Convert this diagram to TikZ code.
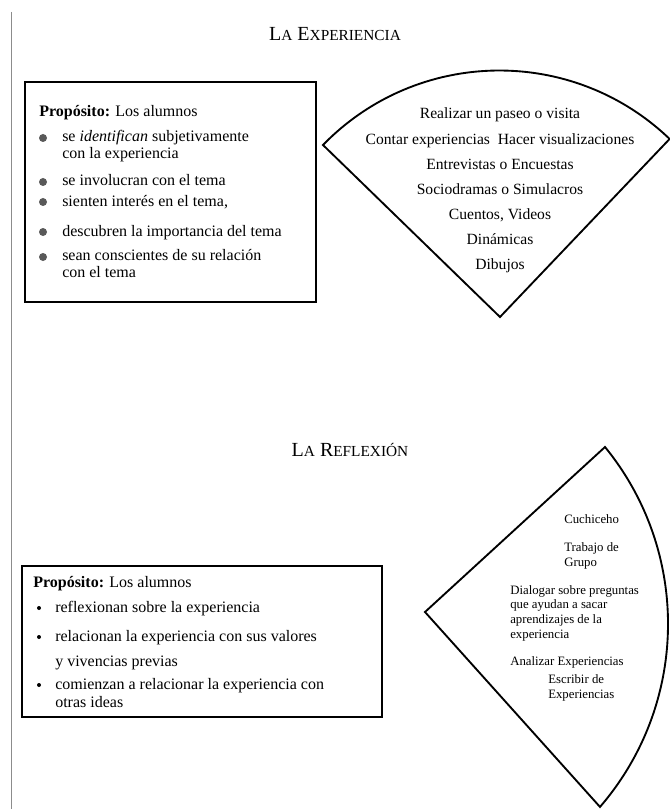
\documentclass[tikz,border=0pt]{standalone}
\usepackage{fontspec}
\setmainfont{Liberation Serif}
\newcommand{\smc}[1]{{\fontsize{11.5}{13}\selectfont #1}}
\tikzset{
    title/.style={font=\fontsize{15}{17}\selectfont, anchor=base, inner sep=0pt},
    frame/.style={draw, line width=1.1pt},
    fan/.style={draw, line width=1.4pt, line join=miter},
    txt/.style={font=\fontsize{12}{12.75}\selectfont, anchor=base west,
                inner sep=0pt, align=left},
    fantxt/.style={font=\fontsize{11.7}{18.75}\selectfont, anchor=base,
                   inner sep=0pt, align=center},
    smalltxt/.style={font=\fontsize{9.6}{11}\selectfont, anchor=base west,
                     inner sep=0pt, align=left},
    bigdot/.style={circle, fill=black!65, inner sep=0pt, minimum size=6pt},
    smalldot/.style={circle, fill=black, inner sep=0pt, minimum size=3pt},
}

\begin{document}
\begin{tikzpicture}[x=0.75pt, y=-0.75pt]

    \useasboundingbox (0,0) rectangle (670,809);
    \draw[black!45, line width=0.6pt] (11,12) -- (11,809);

    % la experiencia (multi-line nodes sit on their last baseline)
    \node[title] (exptitle) at (335,41) {L\smc{A} E\smc{XPERIENCIA}};
    \draw[frame] (25,82) rectangle (316,302);
    \node[txt] (exppurpose) at (39,117) {\textbf{Propósito:} Los alumnos};
    \node[bigdot] (d1) at (43,138) {};
    \node[txt] (e1) at (62,159) {se \textit{identifican} subjetivamente\\con la experiencia};
    \node[bigdot] (d2) at (43,182) {};
    \node[txt] (e2) at (62,186) {se involucran con el tema};
    \node[bigdot] (d3) at (43,202) {};
    \node[txt] (e3) at (62,206) {sienten interés en el tema,};
    \node[bigdot] (d4) at (43,232) {};
    \node[txt] (e4) at (62,236) {descubren la importancia del tema};
    \node[bigdot] (d5) at (43,257) {};
    \node[txt] (e5) at (62,277) {sean conscientes de su relación\\con el tema};

    \draw[fan] (500,317) -- (323,145) arc[start angle=-135.8, end angle=-46.2, radius=246] -- cycle;
    \node[fantxt] (exptools) at (500,269) {Realizar un paseo o visita\\
        Contar experiencias\ \ Hacer visualizaciones\\
        Entrevistas o Encuestas\\
        Sociodramas o Simulacros\\
        Cuentos, Videos\\
        Dinámicas\\
        Dibujos};

    % la reflexion
    \node[title] (reftitle) at (350,456) {L\smc{A} R\smc{EFLEXIÓN}};
    \draw[frame] (22,566) rectangle (382,717);
    \node[txt] (refpurpose) at (33,587) {\textbf{Propósito:} Los alumnos};
    \node[smalldot] (s1) at (39,608) {};
    \node[txt] (r1) at (55,612) {reflexionan sobre la experiencia};
    \node[smalldot] (s2) at (39,637) {};
    \node[txt] (r2) at (55,666) {relacionan la experiencia con sus valores\\[6pt]y vivencias previas};
    \node[smalldot] (s3) at (39,685) {};
    \node[txt] (r3) at (55,707) {comienzan a relacionar la experiencia con\\[0.75pt]otras ideas};

    \draw[fan] (425,612) -- (605,447) arc[start angle=-39.2, end angle=40.8, radius=280] -- cycle;
    \node[smalltxt] (t1) at (564,523) {Cuchiceho};
    \node[smalltxt] (t2) at (564,566) {Trabajo de\\Grupo};
    \node[smalltxt] (t3) at (510,638) {Dialogar sobre preguntas\\que ayudan a sacar\\aprendizajes de la\\experiencia};
    \node[smalltxt] (t4) at (510,665) {Analizar Experiencias};
    \node[smalltxt] (t5) at (548,698) {Escribir de\\Experiencias};

\end{tikzpicture}
\end{document}
